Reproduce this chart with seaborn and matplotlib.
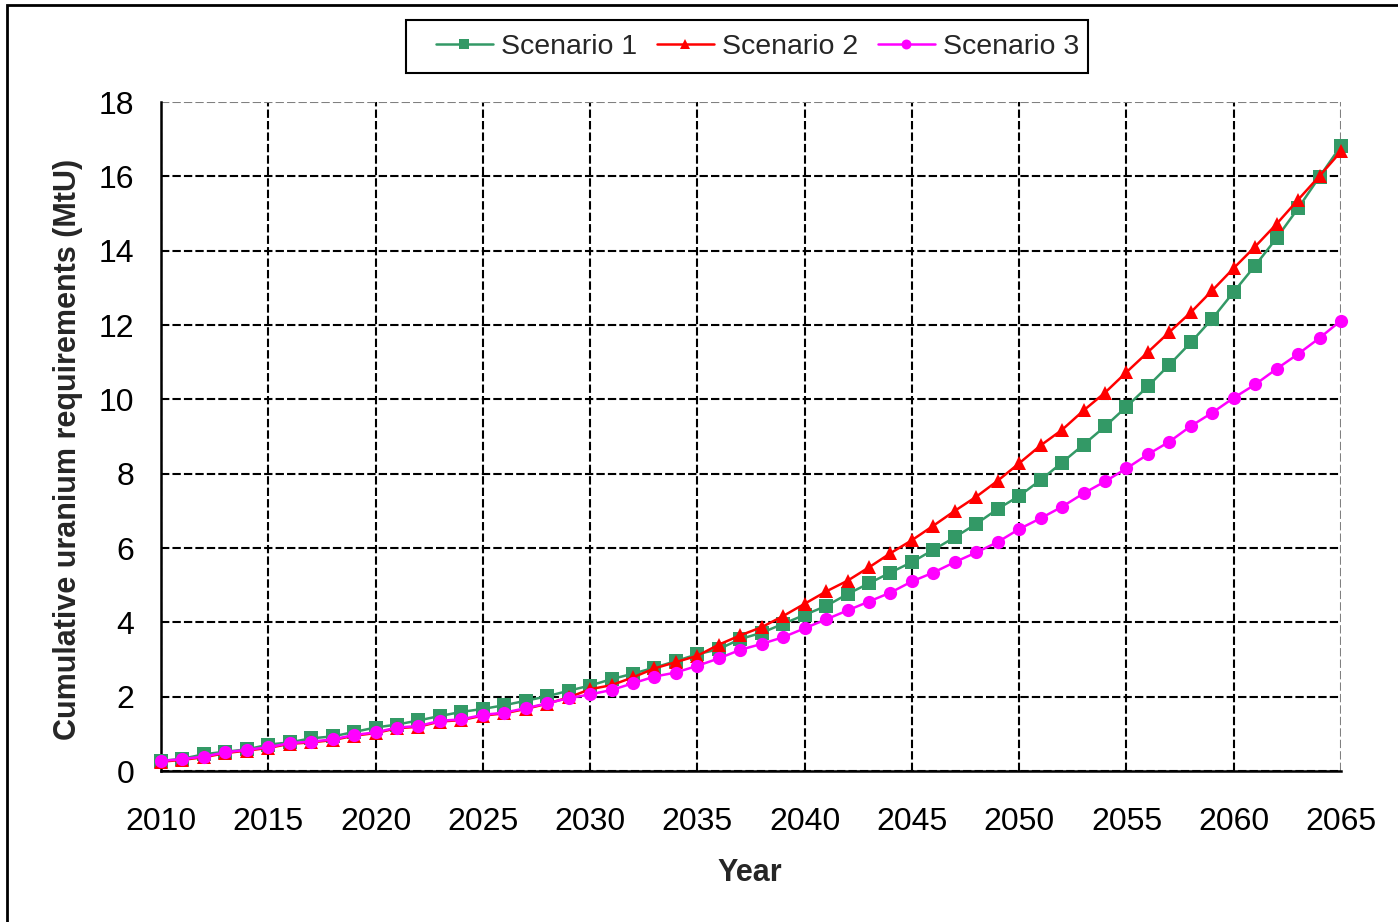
import matplotlib
matplotlib.use("Agg")
import matplotlib.pyplot as plt
from matplotlib.lines import Line2D
from matplotlib.patches import Rectangle
import numpy as np
import pandas as pd
import seaborn as sns

# Cumulative uranium requirements (MtU) per year for three scenarios
years = list(range(2010, 2066))

scenario_1 = [
    0.27, 0.33, 0.45, 0.52, 0.58, 0.71, 0.77, 0.88, 0.93, 1.05,
    1.17, 1.25, 1.36, 1.48, 1.59, 1.67, 1.77, 1.89, 2.01, 2.16,
    2.30, 2.47, 2.62, 2.78, 2.96, 3.14, 3.28, 3.55, 3.72, 3.96,
    4.20, 4.44, 4.76, 5.05, 5.34, 5.62, 5.95, 6.29, 6.65, 7.05,
    7.40, 7.83, 8.30, 8.78, 9.27, 9.80, 10.35, 10.93, 11.53, 12.17,
    12.89, 13.60, 14.34, 15.14, 15.99, 16.82,
]
scenario_2 = [
    0.25, 0.30, 0.37, 0.48, 0.55, 0.62, 0.73, 0.77, 0.83, 0.95,
    1.02, 1.15, 1.19, 1.33, 1.37, 1.49, 1.55, 1.67, 1.81, 1.98,
    2.20, 2.31, 2.52, 2.76, 2.93, 3.10, 3.40, 3.65, 3.87, 4.17,
    4.50, 4.83, 5.12, 5.48, 5.86, 6.21, 6.60, 7.00, 7.38, 7.81,
    8.28, 8.76, 9.18, 9.70, 10.18, 10.73, 11.27, 11.81, 12.34, 12.93,
    13.53, 14.11, 14.72, 15.37, 16.01, 16.67,
]
scenario_3 = [
    0.27, 0.32, 0.39, 0.50, 0.57, 0.64, 0.75, 0.79, 0.85, 0.97,
    1.04, 1.17, 1.21, 1.35, 1.39, 1.51, 1.57, 1.69, 1.82, 1.96,
    2.06, 2.18, 2.36, 2.54, 2.65, 2.83, 3.03, 3.26, 3.42, 3.60,
    3.84, 4.08, 4.32, 4.56, 4.80, 5.10, 5.34, 5.62, 5.88, 6.16,
    6.51, 6.80, 7.11, 7.47, 7.79, 8.14, 8.52, 8.86, 9.28, 9.64,
    10.04, 10.40, 10.82, 11.22, 11.65, 12.12,
]

series_names = ["Scenario 1", "Scenario 2", "Scenario 3"]
series_values = [scenario_1, scenario_2, scenario_3]
colors = ["#339966", "#FF0000", "#FF00FF"]
markers = ["s", "^", "o"]
marker_sizes = [9.5, 10.5, 9.5]

x_ticks = list(range(2010, 2066, 5))
y_ticks = list(range(0, 19, 2))

sns.set_style("white")
plt.rcParams["font.family"] = ["Liberation Sans", "DejaVu Sans"]

W, H = 1398, 922
fig = plt.figure(figsize=(W / 100, H / 100), dpi=100)
ax = fig.add_axes([161 / W, 1 - 771 / H, 1180 / W, 669 / H])

for name, vals, c, m, ms in zip(series_names, series_values, colors, markers, marker_sizes):
    df = pd.DataFrame({"Year": years, "Value": vals})
    sns.lineplot(data=df, x="Year", y="Value", ax=ax, color=c, marker=m,
                 markersize=ms, markeredgewidth=0, linewidth=1.8,
                 clip_on=False, zorder=3, legend=False)

ax.set_xlim(2010, 2065)
ax.set_ylim(0, 18)
ax.set_xticks(x_ticks)
ax.set_yticks(y_ticks)
ax.grid(True, color="black", linestyle=(0, (4, 1.5)), linewidth=1.5, zorder=1)
ax.set_axisbelow(True)
# the outermost grid lines sit on the plot edge and read lighter
ax.get_xgridlines()[-1].set_color("#808080")
ax.get_ygridlines()[-1].set_color("#808080")

for side in ["top", "right"]:
    ax.spines[side].set_visible(False)
for side in ["left", "bottom"]:
    ax.spines[side].set_color("black")
    ax.spines[side].set_linewidth(1.8)

ax.tick_params(axis="both", direction="out", length=6, width=1.5,
               color="black", labelsize=23, labelcolor="black")
ax.tick_params(axis="x", pad=20)
ax.tick_params(axis="y", pad=13)

ax.set_xlabel("Year", fontsize=22, fontweight="bold")
ax.set_ylabel("Cumulative uranium requirements (MtU)", fontsize=22, fontweight="bold")
ax.xaxis.set_label_coords(0.499, -0.1295)
ax.yaxis.set_label_coords(-0.066, 0.4806)

handles = [
    Line2D([0], [0], color=c, marker=m, markersize=ms * 0.75, markeredgewidth=0, linewidth=1.8)
    for c, m, ms in zip(colors, markers, marker_sizes)
]
leg = fig.legend(handles, series_names, loc="center", bbox_to_anchor=(757.5 / W, 1 - 46.5 / H),
                 ncol=3, fontsize=20.5, frameon=False, handlelength=2.0,
                 handletextpad=0.28, columnspacing=0.7, borderpad=0, borderaxespad=0)

# legend box
fig.patches.append(Rectangle((406 / W, 1 - 73 / H), 682 / W, 53 / H, transform=fig.transFigure,
                             fill=False, edgecolor="black", linewidth=1.5))

# outer chart border
fig.patches.append(Rectangle((7 / W, -0.1), 1.2, 1.1 - 5 / H, transform=fig.transFigure,
                             fill=False, edgecolor="black", linewidth=2))

fig.savefig("out.png", dpi=100)
